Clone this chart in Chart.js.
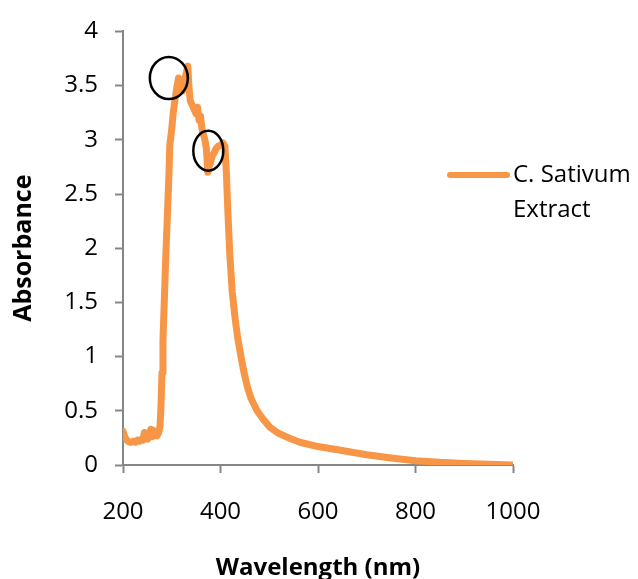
<!DOCTYPE html>
<html>
<head>
<meta charset="utf-8">
<script src="https://cdn.jsdelivr.net/npm/chart.js@4"></script>
<style>
  html, body { margin: 0; padding: 0; background: #fff; }
  #wrap { width: 638px; height: 579px; }
</style>
</head>
<body>
<div id="wrap"><canvas id="absChart" width="638" height="579"></canvas></div>
<script>
// absorbance spectrum
const wavelengths = [200,203,206,210,214,218,222,226,230,234,238,241,244,246,248,251,254,257,260,262,
  264,267,270,273,276,278,280,282,285,288,291,294,296,300,303,307,311,314,318,322,
  326,330,333,335,338,342,346,350,353,356,359,362,365,368,371,374,376,379,383,387,
  391,395,400,405,409,412,415,419,424,430,435,440,447,454,462,475,488,501,520,540,
  563,600,640,700,750,800,850,900,950,1000];
const absorbance = [0.31,0.27,0.24,0.22,0.21,0.21,0.22,0.21,0.23,0.22,0.24,0.23,0.3,0.24,0.26,0.24,0.27,0.33,0.26,0.32,
  0.27,0.29,0.27,0.3,0.36,0.55,0.85,1.15,1.55,1.95,2.3,2.65,2.95,3.1,3.25,3.38,3.5,3.57,3.5,3.45,
  3.55,3.62,3.68,3.5,3.36,3.32,3.28,3.24,3.3,3.18,3.22,3.1,3.05,3.0,2.92,2.7,2.75,2.78,2.85,2.88,
  2.92,2.94,2.95,2.97,2.94,2.7,2.35,1.95,1.6,1.35,1.18,1.05,0.88,0.74,0.62,0.5,0.42,0.35,0.29,0.25,
  0.21,0.17,0.14,0.095,0.065,0.04,0.025,0.015,0.007,0.0];
const xTicks = [200, 400, 600, 800, 1000];
const yTicks = [0, 0.5, 1, 1.5, 2, 2.5, 3, 3.5, 4];
const legendLines = ["C. Sativum", "Extract"];
// highlighted spots (wavelength, absorbance)
const circledX = [294, 375];
const circledY = [3.57, 2.9];

const orange = "#F79646";
const axisGray = "#868686";
const fontFam = "'Open Sans', sans-serif";

const points = wavelengths.map((w, i) => ({ x: w, y: absorbance[i] }));

const extras = {
  id: "extras",
  afterDatasetsDraw(chart) {
    const { ctx, scales: { x, y } } = chart;
    ctx.save();
    ctx.strokeStyle = "#000";
    ctx.lineWidth = 2.5;
    const radii = [[19, 21], [15, 20]];
    circledX.forEach((cx, i) => {
      ctx.beginPath();
      ctx.ellipse(x.getPixelForValue(cx), y.getPixelForValue(circledY[i]), radii[i][0], radii[i][1], 0, 0, Math.PI * 2);
      ctx.stroke();
    });
    ctx.restore();
  },
  afterDraw(chart) {
    const { ctx, chartArea } = chart;
    const ly = 175;
    ctx.save();
    ctx.strokeStyle = orange;
    ctx.lineWidth = 6;
    ctx.lineCap = "round";
    ctx.beginPath();
    ctx.moveTo(chartArea.right - 63, ly);
    ctx.lineTo(chartArea.right - 6, ly);
    ctx.stroke();
    ctx.fillStyle = "#000";
    ctx.font = "24px " + fontFam;
    ctx.textBaseline = "middle";
    ctx.textAlign = "left";
    legendLines.forEach((t, i) => ctx.fillText(t, chartArea.right, ly + i * 35));
    ctx.restore();
  }
};

new Chart(document.getElementById("absChart"), {
  type: "line",
  data: {
    datasets: [{
      label: legendLines.join(" "),
      data: points,
      borderColor: orange,
      borderWidth: 7,
      pointRadius: 0,
      tension: 0,
      borderJoinStyle: "round",
      borderCapStyle: "round",
      fill: false
    }]
  },
  options: {
    responsive: false,
    animation: false,
    layout: { padding: { top: 25, right: 125, left: 0, bottom: 0 } },
    plugins: { legend: { display: false }, tooltip: { enabled: false } },
    scales: {
      x: {
        type: "linear",
        min: 200, max: 1000,
        afterBuildTicks: s => { s.ticks = xTicks.map(v => ({ value: v })); },
        afterFit: s => { s.height = 114; },
        grid: { drawOnChartArea: false, color: axisGray, tickLength: 8, tickWidth: 2 },
        border: { color: axisGray, width: 2 },
        ticks: { color: "#000", padding: 25, maxRotation: 0, callback: v => String(v),
                 font: { family: fontFam, size: 24 } },
        title: { display: true, text: "Wavelength (nm)", color: "#000", padding: { top: 0, bottom: -4 },
                 font: { family: fontFam, size: 24, weight: "bold" } }
      },
      y: {
        min: 0, max: 4,
        afterBuildTicks: s => { s.ticks = yTicks.map(v => ({ value: v })); },
        afterFit: s => { s.width = 123; },
        grid: { drawOnChartArea: false, color: axisGray, tickLength: 8, tickWidth: 2 },
        border: { color: axisGray, width: 2 },
        ticks: { color: "#000", padding: 17, callback: v => String(v),
                 font: { family: fontFam, size: 24 } },
        title: { display: true, text: "Absorbance", color: "#000", padding: { top: 9, bottom: 0 },
                 font: { family: fontFam, size: 25, weight: "bold" } }
      }
    }
  },
  plugins: [extras]
});
</script>
</body>
</html>
